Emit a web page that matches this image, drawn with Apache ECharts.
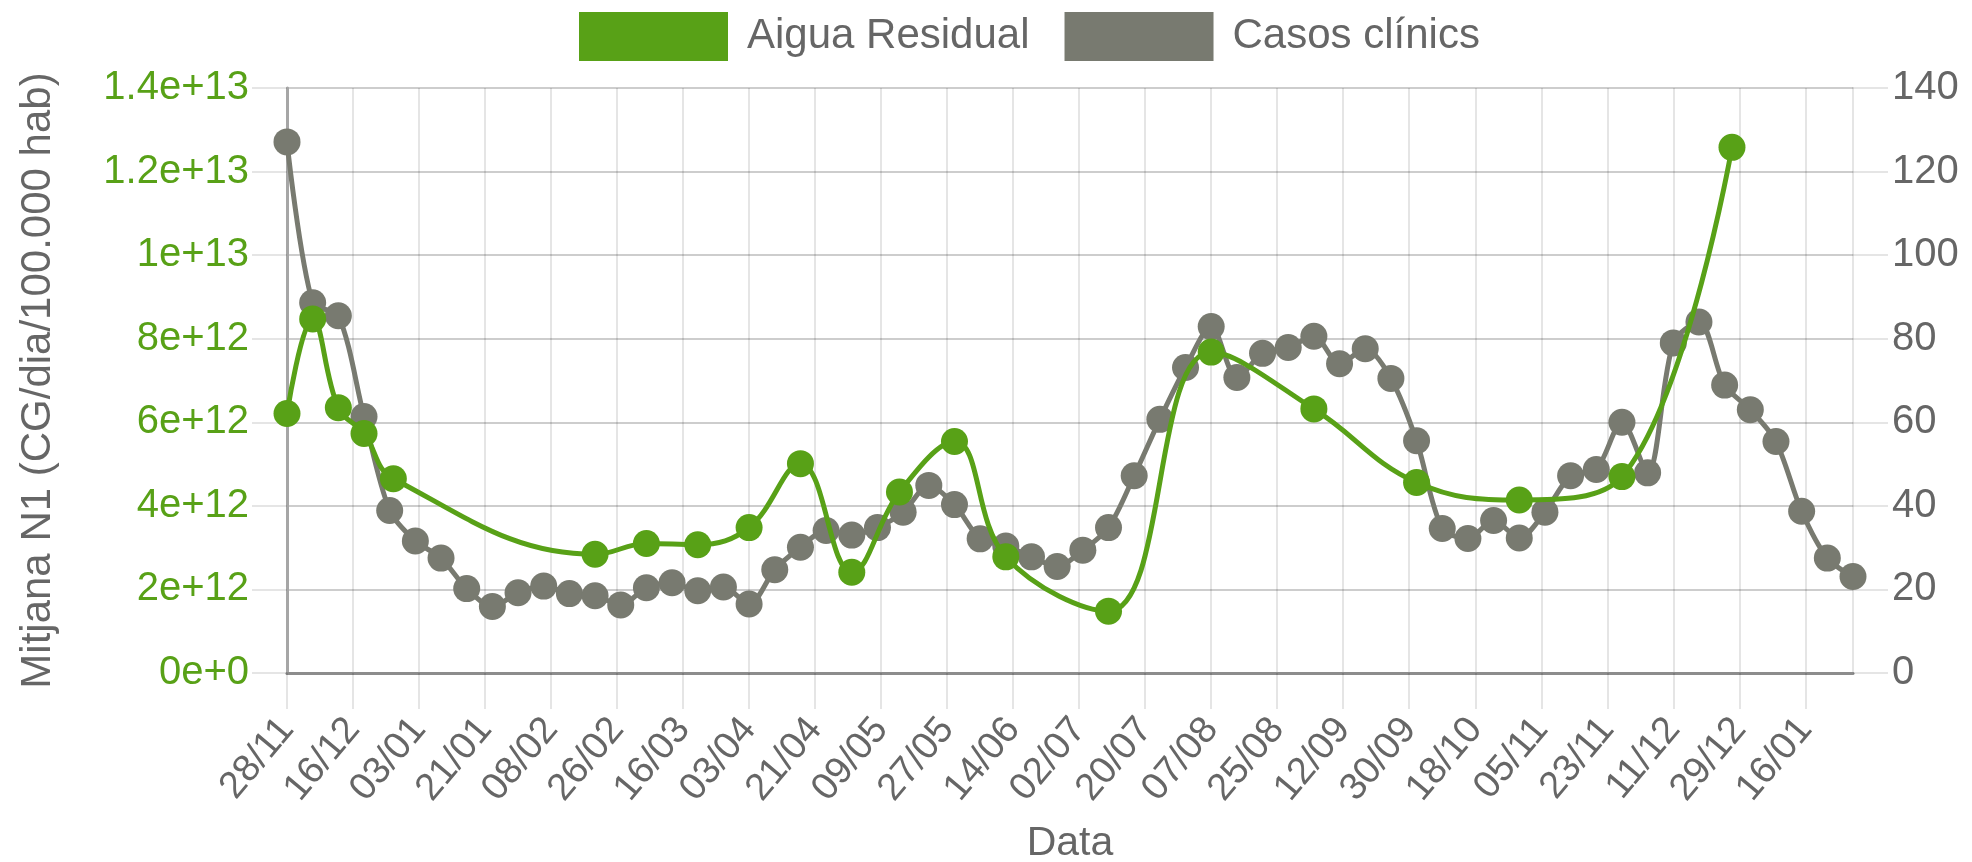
<!DOCTYPE html>
<html>
<head>
<meta charset="utf-8">
<script src="https://cdn.jsdelivr.net/npm/echarts@6/dist/echarts.min.js"></script>
<style>html,body{margin:0;padding:0;background:#fff}#c{width:1972px;height:862px}</style>
</head>
<body>
<div id="c"></div>
<script>
// ---- Data ----
const startDate = '2020-11-28';
const endDate = '2022-01-29';
const categories = [];
(function () {
  let d = new Date(startDate + 'T00:00:00Z');
  const e = new Date(endDate + 'T00:00:00Z');
  while (d <= e) { categories.push(d.toISOString().slice(0, 10)); d = new Date(d.getTime() + 86400000); }
})();

const seriesNames = ['Aigua Residual', 'Casos clínics'];

const casesDates = [
  '2020-11-28','2020-12-05','2020-12-12','2020-12-19','2020-12-26',
  '2021-01-02','2021-01-09','2021-01-16','2021-01-23','2021-01-30',
  '2021-02-06','2021-02-13','2021-02-20','2021-02-27',
  '2021-03-06','2021-03-13','2021-03-20','2021-03-27',
  '2021-04-03','2021-04-10','2021-04-17','2021-04-24',
  '2021-05-01','2021-05-08','2021-05-15','2021-05-22','2021-05-29',
  '2021-06-05','2021-06-12','2021-06-19','2021-06-26',
  '2021-07-03','2021-07-10','2021-07-17','2021-07-24','2021-07-31',
  '2021-08-07','2021-08-14','2021-08-21','2021-08-28',
  '2021-09-04','2021-09-11','2021-09-18','2021-09-25',
  '2021-10-02','2021-10-09','2021-10-16','2021-10-23','2021-10-30',
  '2021-11-06','2021-11-13','2021-11-20','2021-11-27',
  '2021-12-04','2021-12-11','2021-12-18','2021-12-25',
  '2022-01-01','2022-01-08','2022-01-15','2022-01-22','2022-01-29'
];
const casesValues = [
  127.1, 88.6, 85.5, 61.4, 38.9,
  31.6, 27.5, 20.2, 15.9, 19.2,
  20.8, 19.0, 18.5, 16.3,
  20.4, 21.6, 19.7, 20.6,
  16.5, 24.7, 30.1, 34.1,
  33.0, 34.8, 38.5, 44.9, 40.3,
  32.1, 30.4, 27.8, 25.5,
  29.4, 34.8, 47.2, 60.7, 73.1,
  82.9, 70.7, 76.5, 77.9,
  80.6, 74.0, 77.6, 70.5,
  55.6, 34.6, 32.2, 36.5, 32.3,
  38.5, 47.2, 48.7, 60.0,
  47.9, 79.0, 84.0, 68.9,
  63.0, 55.4, 38.7, 27.5, 23.1
];

const waterDates = [
  '2020-11-28','2020-12-05','2020-12-12','2020-12-19','2020-12-27',
  '2021-02-20','2021-03-06','2021-03-20','2021-04-03','2021-04-17',
  '2021-05-01','2021-05-14','2021-05-29','2021-06-12','2021-07-10',
  '2021-08-07','2021-09-04','2021-10-02','2021-10-30','2021-11-27',
  '2021-12-27'
];
const waterValues = [
  6.21e12, 8.47e12, 6.35e12, 5.73e12, 4.65e12,
  2.84e12, 3.10e12, 3.07e12, 3.48e12, 5.01e12,
  2.41e12, 4.33e12, 5.54e12, 2.78e12, 1.48e12,
  7.68e12, 6.32e12, 4.56e12, 4.14e12, 4.70e12,
  12.58e12
];

const leftAxisMin = 0, leftAxisMax = 1.4e13, leftAxisStep = 2e12;
const rightAxisMin = 0, rightAxisMax = 140, rightAxisStep = 20;
const xLabelEvery = 18;
const xAxisTitle = 'Data';
const yAxisTitle = 'Mitjana N1 (CG/dia/100.000 hab)';

// ---- Styling ----
const GREEN = '#58a117';
const GRAY = '#787a70';
const TXT = '#666666';
const GRID = 'rgba(0,0,0,0.1)';
const FONT = '"Liberation Sans", Arial, Helvetica, sans-serif';

const chart = echarts.init(document.getElementById('c'), null, {renderer: 'canvas'});
chart.setOption({
  animation: false,
  backgroundColor: '#ffffff',
  textStyle: {fontFamily: FONT},
  legend: {
    data: seriesNames,
    left: 574,
    top: 7,
    icon: 'rect',
    itemWidth: 149,
    itemHeight: 49,
    itemGap: 35,
    textStyle: {fontSize: 42, color: TXT, fontFamily: FONT, padding: [0, 0, 0, 14]}
  },
  grid: {left: 287, right: 119, top: 88, bottom: 189, containLabel: false, outerBoundsMode: 'none'},
  xAxis: {
    type: 'category',
    data: categories,
    boundaryGap: false,
    name: xAxisTitle,
    nameLocation: 'middle',
    nameGap: 150,
    nameTextStyle: {fontSize: 41, color: TXT, fontFamily: FONT},
    axisLine: {show: true, lineStyle: {color: '#8c8c8c', width: 3}},
    axisTick: {show: true, interval: xLabelEvery - 1, length: 36, lineStyle: {color: GRID, width: 2}},
    splitLine: {show: true, interval: xLabelEvery - 1, lineStyle: {color: GRID, width: 2}},
    axisLabel: {
      interval: xLabelEvery - 1,
      rotate: 50,
      margin: 50,
      fontSize: 38,
      color: TXT,
      fontFamily: FONT,
      formatter: function (v) { return v.slice(8, 10) + '/' + v.slice(5, 7); }
    }
  },
  yAxis: [
    {
      type: 'value',
      position: 'left',
      min: leftAxisMin, max: leftAxisMax, interval: leftAxisStep,
      name: yAxisTitle,
      nameLocation: 'middle',
      nameGap: 228,
      nameRotate: 90,
      nameTextStyle: {fontSize: 42, color: TXT, fontFamily: FONT},
      axisLine: {show: true, lineStyle: {color: '#a6a6a6', width: 3}},
      axisTick: {show: true, length: 35, lineStyle: {color: GRID, width: 2}},
      splitLine: {show: true, lineStyle: {color: GRID, width: 2}},
      axisLabel: {
        margin: 38, fontSize: 40, color: GREEN, fontFamily: FONT,
        formatter: function (v) { return Number(v).toExponential(); }
      }
    },
    {
      type: 'value',
      position: 'right',
      min: rightAxisMin, max: rightAxisMax, interval: rightAxisStep,
      axisLine: {show: true, lineStyle: {color: GRID, width: 2}},
      axisTick: {show: true, length: 35, lineStyle: {color: GRID, width: 2}},
      splitLine: {show: true, lineStyle: {color: GRID, width: 2}},
      axisLabel: {margin: 39, fontSize: 40, color: TXT, fontFamily: FONT}
    }
  ],
  series: [
    {
      name: seriesNames[0],
      type: 'line',
      yAxisIndex: 0,
      z: 4,
      data: waterDates.map((d, i) => [d, waterValues[i]]),
      smooth: 0.4,
      showSymbol: true,
      showAllSymbol: true,
      symbol: 'circle',
      symbolSize: 27,
      lineStyle: {color: GREEN, width: 5},
      itemStyle: {color: GREEN, borderWidth: 0}
    },
    {
      name: seriesNames[1],
      type: 'line',
      yAxisIndex: 1,
      z: 3,
      data: casesDates.map((d, i) => [d, casesValues[i]]),
      smooth: 0.3,
      showSymbol: true,
      showAllSymbol: true,
      symbol: 'circle',
      symbolSize: 27,
      lineStyle: {color: GRAY, width: 5},
      itemStyle: {color: GRAY, borderWidth: 0}
    }
  ]
});
</script>
</body>
</html>
